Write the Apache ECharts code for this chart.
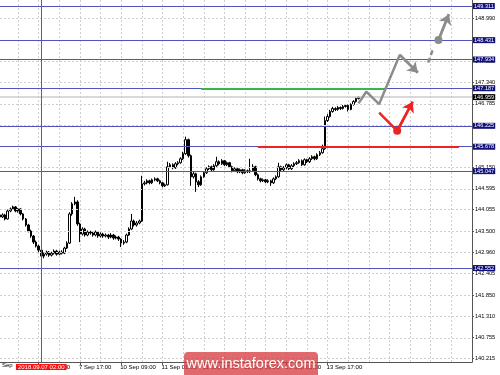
<!DOCTYPE html>
<html><head><meta charset="utf-8">
<script src="https://cdn.jsdelivr.net/npm/echarts@6/dist/echarts.min.js"></script>
<style>html,body{margin:0;padding:0;background:#fff}#c{width:500px;height:375px}</style>
</head><body><div id="c"></div>
<script>
// hourly trading sessions (day, first hour, last hour)
const sessions = [['6 Sep',10,23],['7 Sep',0,23],['10 Sep',0,23],['11 Sep',0,23],['12 Sep',0,23],['13 Sep',0,23],['14 Sep',0,23],['17 Sep',0,23],['18 Sep',0,1]];
const tickLabels = ['7 Sep 01:00','7 Sep 17:00','10 Sep 09:00','11 Sep 01:00','11 Sep 17:00','12 Sep 09:00','13 Sep 01:00','13 Sep 17:00'];
const yTicks = [140.215,140.755,141.310,141.850,142.405,142.960,143.500,144.055,144.595,145.150,145.690,146.230,146.785,147.340,147.880,148.435,148.990];

const open = [
143.920,143.868,143.920,143.816,144.023,144.075,144.127,144.023,144.075,143.946,
143.816,143.661,143.505,143.376,143.220,143.117,143.013,142.858,142.909,142.961,
142.883,142.935,142.987,142.909,142.961,142.935,143.065,143.194,143.946,144.205,
144.256,143.687,143.427,143.557,143.402,143.479,143.453,143.402,143.479,143.376,
143.427,143.376,143.402,143.350,143.402,143.324,143.350,143.298,143.194,143.220,
143.402,143.557,143.764,143.661,143.712,143.764,144.723,144.749,144.801,144.749,
144.826,144.852,144.801,144.749,144.671,144.697,145.163,145.215,145.137,145.241,
145.267,145.370,145.500,145.863,145.448,144.904,144.982,144.775,144.697,144.904,
145.008,145.111,145.163,145.086,145.189,145.293,145.241,145.319,145.215,145.267,
145.163,145.060,145.111,145.034,145.086,145.008,145.060,145.034,145.060,145.163,
144.956,144.852,144.801,144.826,144.775,144.801,144.749,144.852,144.904,145.163,
145.086,145.137,145.215,145.111,145.189,145.241,145.267,145.319,145.215,145.345,
145.293,145.370,145.422,145.370,145.474,145.526,145.630,146.355,146.459,146.588,
146.666,146.640,146.692,146.666,146.718,146.744,146.640,146.769,146.847,146.925];
const close = [
143.868,143.920,143.816,144.023,144.075,144.127,144.023,144.075,143.946,143.816,
143.661,143.505,143.376,143.220,143.117,143.013,142.858,142.909,142.961,142.883,
142.935,142.987,142.909,142.961,142.935,143.065,143.194,143.946,144.205,144.256,
143.687,143.427,143.557,143.402,143.479,143.453,143.402,143.479,143.376,143.427,
143.376,143.402,143.350,143.402,143.324,143.350,143.298,143.194,143.220,143.402,
143.557,143.764,143.661,143.712,143.764,144.723,144.749,144.801,144.749,144.826,
144.852,144.801,144.749,144.671,144.697,145.163,145.215,145.137,145.241,145.267,
145.370,145.500,145.863,145.448,144.904,144.982,144.775,144.697,144.904,145.008,
145.111,145.163,145.086,145.189,145.293,145.241,145.319,145.215,145.267,145.163,
145.060,145.111,145.034,145.086,145.008,145.060,145.034,145.060,145.163,144.956,
144.852,144.801,144.826,144.775,144.801,144.749,144.852,144.904,145.163,145.086,
145.137,145.215,145.111,145.189,145.241,145.267,145.319,145.215,145.345,145.293,
145.370,145.422,145.370,145.474,145.526,145.630,146.355,146.459,146.588,146.666,
146.640,146.692,146.666,146.718,146.744,146.640,146.769,146.847,146.925,146.959];
const high = [
143.965,143.960,143.950,144.060,144.110,144.160,144.150,144.100,144.090,143.970,
143.840,143.690,143.540,143.400,143.260,143.150,143.040,142.950,143.000,142.990,
142.970,143.030,143.020,143.000,143.010,143.100,143.240,143.990,144.250,144.386,
144.300,143.720,143.600,143.590,143.520,143.510,143.490,143.520,143.500,143.470,
143.460,143.440,143.430,143.450,143.430,143.390,143.380,143.320,143.270,143.440,
143.600,143.946,143.800,143.760,143.800,144.930,144.800,144.840,144.830,144.860,
144.890,144.880,144.830,144.770,144.730,145.293,145.260,145.250,145.280,145.310,
145.410,145.550,145.940,145.890,145.480,145.030,145.010,144.820,144.940,145.050,
145.150,145.200,145.190,145.230,145.422,145.330,145.360,145.340,145.300,145.290,
145.190,145.150,145.140,145.120,145.110,145.100,145.090,145.370,145.230,145.190,
144.990,144.880,144.860,144.850,144.840,144.830,144.890,144.940,145.267,145.190,
145.180,145.250,145.240,145.230,145.280,145.310,145.360,145.350,145.380,145.370,
145.410,145.460,145.450,145.510,145.570,145.733,146.459,146.520,146.630,146.710,
146.700,146.730,146.720,146.760,146.780,146.770,146.800,146.880,146.960,146.990];
const low = [
143.830,143.840,143.780,143.800,143.990,144.050,143.990,143.980,143.910,143.780,
143.620,143.470,143.330,143.170,143.080,142.960,142.598,142.800,142.870,142.840,
142.850,142.900,142.870,142.880,142.900,142.910,143.040,143.170,143.900,144.170,
143.640,143.220,143.390,143.360,143.370,143.410,143.360,143.370,143.330,143.340,
143.330,143.340,143.300,143.320,143.280,143.290,143.250,143.091,143.150,143.190,
143.380,143.530,143.620,143.620,143.680,143.740,144.680,144.710,144.710,144.720,
144.790,144.770,144.710,144.630,144.640,144.680,145.130,145.100,145.110,145.200,
145.240,145.340,145.470,145.400,144.671,144.860,144.516,144.640,144.670,144.880,
144.980,145.080,145.050,145.060,145.160,145.200,145.210,145.180,145.180,145.130,
145.020,145.030,145.000,145.000,144.970,144.980,145.000,145.000,145.030,144.920,
144.810,144.760,144.770,144.740,144.740,144.671,144.720,144.820,144.880,145.050,
145.050,145.100,145.080,145.080,145.160,145.210,145.240,145.180,145.190,145.260,
145.260,145.340,145.330,145.340,145.440,145.500,145.600,146.320,146.430,146.560,
146.600,146.610,146.630,146.640,146.690,146.588,146.620,146.740,146.820,146.900];

const levels = [149.311,148.431,147.934,147.187,146.225,145.678,145.047,142.552];
const currentPrice = 146.959;
const markedTime = '7 Sep 02:00';
const markedTimeLabel = '2018.09.07 02:00';
const greenLevel = {value:147.187, from:78, to:149};
const redLevel = {value:145.678, from:100, to:178};
const grayPath = [[139,146.80],[142,147.10],[147,146.78],[155,148.05],[162,147.59]];
const grayDash = [[166,147.85],[168,148.22]];
const grayPoint = [170,148.431];
const grayTarget = [174,149.10];
const redPath = [[147,146.56],[154,146.09],[160,146.84]];

const categories = [];
sessions.forEach(([d,h0,h1]) => { for (let h=h0; h<=h1; h++) categories.push(d+' '+String(h).padStart(2,'0')+':00'); });

const FONT = 'Liberation Sans';
const GRAY = '#8c8c8c', RED = '#ee2424', NAVY = '#5252bc';
const ohlc = open.map((o,i)=>[o, close[i], low[i], high[i]]);

const chart = echarts.init(document.getElementById('c'), null, {renderer:'canvas'});
chart.setOption({
  animation:false,
  backgroundColor:'#fff',
  grid:{left:0, right:28, top:0, bottom:13},
  xAxis:{
    type:'category', data:categories, boundaryGap:false,
    axisLine:{lineStyle:{color:'#555', width:1}},
    axisTick:{interval:(i,v)=>tickLabels.includes(v), length:3, lineStyle:{color:'#555'}},
    axisLabel:{interval:(i,v)=>tickLabels.includes(v), align:'left', margin:2, fontSize:6, color:'#000', fontFamily:FONT, padding:[0,0,0,-1]},
    splitLine:{show:true, interval:(i)=>i%8===7, lineStyle:{color:'#cfcfcf', type:[2,2], width:1}}
  },
  yAxis:{
    type:'value', position:'right', min:140.126, max:149.466, scale:true,
    axisLine:{show:true, lineStyle:{color:'#555', width:1}},
    axisTick:{show:true, customValues:yTicks, length:2, lineStyle:{color:'#555'}},
    axisLabel:{customValues:yTicks, formatter:v=>v.toFixed(3), fontSize:5.6, color:'#000', fontFamily:FONT, margin:3},
    splitLine:{show:false}
  },
  graphic:[
    {type:'text', left:2, top:362, style:{text:'Sep', fontSize:6, fill:'#000', fontFamily:FONT}, z:10},
    {type:'rect', shape:{x:184, y:352, width:134, height:30, r:4}, style:{fill:'rgba(214,58,64,0.76)'}, z:20},
    {type:'text', x:251, y:364, style:{text:'www.instaforex.com', fontSize:14.5, fill:'#fff', fontFamily:FONT, align:'center', verticalAlign:'middle'}, z:21}
  ],
  series:[
    { // grid and levels
      type:'line', data:[], z:1, silent:true,
      markLine:{silent:true, symbol:'none', animation:false,
        data:[
          ...yTicks.map(v=>({yAxis:v, lineStyle:{color:'#cfcfcf', type:[2,2], width:1}, label:{show:false}})),
          {yAxis:currentPrice, lineStyle:{color:'#cccccc', type:'solid', width:1.5},
            label:{show:true, position:'end', distance:1, formatter:()=>currentPrice.toFixed(3), backgroundColor:'#000', color:'#fff', fontSize:5.6, fontFamily:FONT, padding:[0,1]}},
          ...levels.map(v=>({yAxis:v, lineStyle:{color:NAVY, type:'solid', width:1},
            label:{show:true, position:'end', distance:1, formatter:()=>v.toFixed(3), backgroundColor:'#101078', color:'#fff', fontSize:5.6, fontFamily:FONT, padding:[0,1]}})),
          {xAxis:markedTime, lineStyle:{color:'#ff2020', type:'solid', width:1},
            label:{show:true, position:'start', distance:2, formatter:()=>markedTimeLabel, backgroundColor:'#ff1010', color:'#fff', fontSize:6, fontFamily:FONT, padding:[0,2]}}
        ]}
    },
    {
      type:'candlestick', data:ohlc, z:3, barWidth:2,
      itemStyle:{color:'#ffffff', color0:'#000000', borderColor:'#000000', borderColor0:'#000000', borderWidth:1}
    },
    {
      type:'line', data:[], z:4, silent:true,
      markLine:{silent:true, symbol:'none', label:{show:false},
        data:[
          [{coord:[greenLevel.from, greenLevel.value], lineStyle:{color:'#3cb44b', width:2, type:'solid'}},{coord:[greenLevel.to, greenLevel.value]}],
          [{coord:[redLevel.from, redLevel.value], lineStyle:{color:RED, width:2, type:'solid'}},{coord:[redLevel.to, redLevel.value]}]
        ]}
    },
    {
      type:'line', data:grayPath, z:5, symbol:'none', lineStyle:{color:GRAY, width:2.5},
      markLine:{silent:true, symbol:['none','arrow'], symbolSize:10, label:{show:false}, lineStyle:{color:GRAY, width:2.5, type:'solid'},
        data:[[{coord:grayPath[3]},{coord:grayPath[4]}]]}
    },
    {
      type:'line', data:grayDash, z:5, symbol:'none', lineStyle:{color:GRAY, width:2.5, type:[5,3]}
    },
    {
      type:'line', z:5, showAllSymbol:true, symbol:'none', lineStyle:{color:GRAY, width:2.5}, itemStyle:{color:GRAY},
      data:[{value:grayPoint, symbol:'circle', symbolSize:8}, {value:grayTarget, symbol:'none'}],
      markLine:{silent:true, symbol:['none','arrow'], symbolSize:10, label:{show:false}, lineStyle:{color:GRAY, width:2.5, type:'solid'},
        data:[[{coord:grayPoint},{coord:grayTarget}]]}
    },
    {
      type:'line', z:5, showAllSymbol:true, symbol:'none', lineStyle:{color:RED, width:2.5}, itemStyle:{color:RED},
      data:[{value:redPath[0], symbol:'none'}, {value:redPath[1], symbol:'circle', symbolSize:8}, {value:redPath[2], symbol:'none'}],
      markLine:{silent:true, symbol:['none','arrow'], symbolSize:10, label:{show:false}, lineStyle:{color:RED, width:2.5, type:'solid'},
        data:[[{coord:redPath[1]},{coord:redPath[2]}]]}
    }
  ]
});
</script></body></html>
